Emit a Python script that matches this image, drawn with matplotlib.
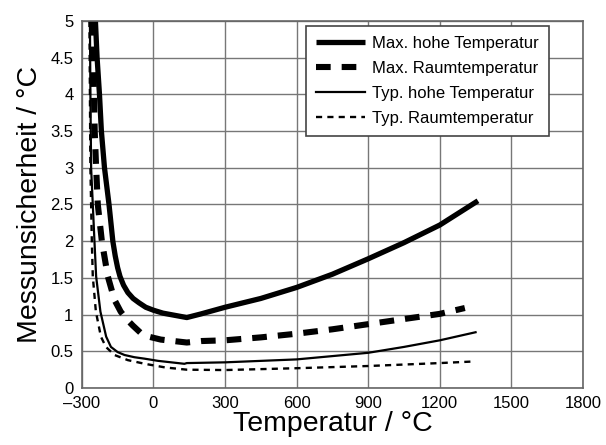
import matplotlib.pyplot as plt

plt.rcParams['font.family'] = ['Liberation Sans', 'DejaVu Sans']

# Max. hohe Temperatur
max_hoch_t = [-243, -236, -226, -218, -205, -186, -170, -160, -150, -140, -125, -107,
              -85, -60, -32, 0, 40, 90, 140, 200, 300, 450, 600, 750, 900, 1050, 1200, 1360]
max_hoch_u = [5.0, 4.5, 4.0, 3.5, 3.0, 2.5, 2.0, 1.8, 1.64, 1.52, 1.4, 1.3,
              1.22, 1.16, 1.1, 1.06, 1.02, 0.99, 0.96, 1.01, 1.1, 1.22, 1.37, 1.55, 1.76, 1.98, 2.22, 2.55]

# Max. Raumtemperatur
max_raum_t = [-256, -252, -249, -246, -240, -233, -216, -191, -163, -137, -110,
              -86, -53, -20, 31, 140, 200, 300, 450, 600, 750, 900, 1050, 1200, 1305]
max_raum_u = [5.0, 4.5, 4.0, 3.5, 3.0, 2.5, 2.0, 1.52, 1.2, 1.04, 0.93,
              0.85, 0.75, 0.7, 0.66, 0.62, 0.64, 0.65, 0.69, 0.74, 0.8, 0.87, 0.94, 1.01, 1.09]

# Typ. hohe Temperatur
typ_hoch_t = [-266, -264, -261, -254, -247, -240, -222, -198, -178, -150, -121,
              -80, -37, 20, 130, 140, 300, 600, 900, 1050, 1200, 1350]
typ_hoch_u = [5.0, 4.0, 3.0, 2.5, 2.0, 1.52, 1.04, 0.7, 0.56, 0.49, 0.45,
              0.42, 0.4, 0.37, 0.33, 0.34, 0.35, 0.39, 0.48, 0.56, 0.65, 0.76]

# Typ. Raumtemperatur
typ_raum_t = [-268, -266, -264, -261, -258, -254, -241, -220, -199, -163, -107,
              -36, 50, 140, 300, 600, 900, 1200, 1330]
typ_raum_u = [5.0, 4.0, 3.0, 2.5, 2.0, 1.52, 1.04, 0.7, 0.56, 0.45, 0.38,
              0.33, 0.28, 0.25, 0.245, 0.27, 0.3, 0.34, 0.36]

x_ticks = [-300, 0, 300, 600, 900, 1200, 1500, 1800]
x_labels = ['–300', '0', '300', '600', '900', '1200', '1500', '1800']
y_ticks = [0, 0.5, 1, 1.5, 2, 2.5, 3, 3.5, 4, 4.5, 5]
y_labels = ['0', '0.5', '1', '1.5', '2', '2.5', '3', '3.5', '4', '4.5', '5']

fig = plt.figure(figsize=(6.06, 4.45), dpi=100)
ax = fig.add_axes([0.135, 0.128, 0.827, 0.825])

ax.plot(max_hoch_t, max_hoch_u, color='black', lw=3.8, solid_capstyle='butt',
        label='Max. hohe Temperatur')
ax.plot(max_raum_t, max_raum_u, color='black', lw=4.4, linestyle=(0, (2.4, 1.8)),
        dash_capstyle='butt', label='Max. Raumtemperatur')
ax.plot(typ_hoch_t, typ_hoch_u, color='black', lw=1.6, label='Typ. hohe Temperatur')
ax.plot(typ_raum_t, typ_raum_u, color='black', lw=1.7, linestyle=(0, (2.6, 2.2)),
        label='Typ. Raumtemperatur')

ax.set_xlim(-300, 1800)
ax.set_ylim(0, 5)
ax.set_xticks(x_ticks)
ax.set_xticklabels(x_labels)
ax.set_yticks(y_ticks)
ax.set_yticklabels(y_labels)
ax.tick_params(axis='x', length=0, labelsize=12, pad=6)
ax.tick_params(axis='y', length=0, labelsize=12, pad=6)
ax.grid(True, color='#777777', lw=1.0)
ax.set_axisbelow(True)
for s in ax.spines.values():
    s.set_color('#666666')
    s.set_linewidth(1.2)

ax.set_xlabel('Temperatur / °C', fontsize=20.5, labelpad=0)
ax.set_ylabel('Messunsicherheit / °C', fontsize=20.5, labelpad=5)

leg = ax.legend(loc='upper right', bbox_to_anchor=(0.932, 0.986), fontsize=12,
                handlelength=2.9, fancybox=False, framealpha=1, borderpad=0.6,
                labelspacing=0.6, handletextpad=0.45, borderaxespad=0)
leg.get_frame().set_edgecolor('#444444')
leg.get_frame().set_linewidth(1.2)

fig.savefig('out.png', dpi=100)
